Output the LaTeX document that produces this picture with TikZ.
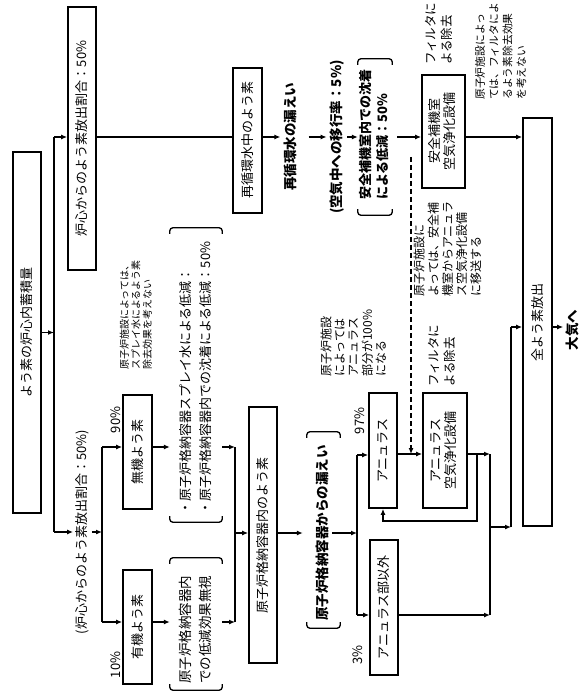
\documentclass[tikz,border=0pt]{standalone}
\usepackage{fontspec}
\setmainfont{Noto Sans CJK JP}
\usetikzlibrary{arrows.meta,calc}
\newcommand{\R}[1]{\rotatebox{90}{#1}}
\newcommand{\RT}[2][c]{\rotatebox{90}{\begin{tabular}{@{}#1@{}}#2\end{tabular}}}
\newcommand{\bracketsof}[1]{%
  \draw[brk] ($(#1.north west)+(0,6)$) -- (#1.north west) -- (#1.north east) -- ($(#1.north east)+(0,6)$);
  \draw[brk] ($(#1.south west)+(0,-6)$) -- (#1.south west) -- (#1.south east) -- ($(#1.south east)+(0,-6)$);}
\tikzset{
  box/.style={draw, line width=1.7pt, inner sep=0pt, font=\fontsize{13}{15}\selectfont},
  ln/.style={line width=1.3pt},
  arr/.style={line width=1.3pt, -{Latex[length=6pt,width=5pt]}},
  txt/.style={inner sep=0pt, font=\fontsize{13}{15}\selectfont},
  btxt/.style={inner sep=0pt, font=\bfseries\fontsize{13.5}{16}\selectfont},
  note/.style={inner sep=0pt, font=\fontsize{12}{13.5}\selectfont},
  snote/.style={inner sep=0pt, font=\fontsize{10}{10.6}\selectfont},
  brk/.style={line width=1.3pt, rounded corners=3pt},
  region/.style n args={2}{inner sep=0pt, minimum width=#1, minimum height=#2},
}
\begin{document}
\begin{tikzpicture}[x=1pt,y=-1pt]
\useasboundingbox (0,0) rectangle (582,700);
% row coordinates
\coordinate (r1) at (0,137);
\coordinate (r2) at (0,454);
\coordinate (r4) at (0,447);
\coordinate (r5) at (0,622);
\coordinate (r6) at (0,533);
\coordinate (r7) at (0,615);

% left part
\node[box, minimum width=28pt, minimum height=361pt] (core) at (27,332.5) {\R{よう素の炉心内蓄積量}};
\node[box, minimum width=28pt, minimum height=263pt] (rel) at (82,138.5) {\R{炉心からのよう素放出割合：50\%}};
\coordinate (j1t) at (54,137);
\coordinate (j1b) at (54,532);
\draw[ln] (j1t) -- (j1b);
\draw[arr] (core.east) -- (core.east -| j1t);
\draw[arr] (j1t) -- (j1t -| rel.west);

% upper row
\node[box, minimum width=29pt, minimum height=145pt] (recw) at (247.5,140.5) {\R{再循環水中のよう素}};
\draw[ln] (rel.east |- r1) -- (recw.west |- r1);
\node[btxt] (leak1) at (290,137) {\R{再循環水の漏えい}};
\draw[arr] (recw.east |- r1) -- ([xshift=-3pt]leak1.west);
\node[btxt] (air) at (337,137) {\R{(空気中への移行率：5\%)}};
\draw[arr] ([xshift=12pt]leak1.east) -- ([xshift=-3pt]air.west);
\node[region={34pt}{156pt}] (bk1) at (375,137) {};
\bracketsof{bk1}
\node[btxt, anchor=south, font=\bfseries\fontsize{13}{17}\selectfont] (bt1) at (376,200) {\RT[l]{安全補機室内での沈着\\による低減：50\%}};
\draw[arr] ([xshift=3pt]air.east) -- (bk1.west);
\node[box, minimum width=43pt, minimum height=113pt] (sacu) at (443.5,131.5) {\RT{安全補機室\\空気浄化設備}};
\draw[arr] ([xshift=5pt]bk1.east) -- (bk1.east -| sacu.west);
\node[box, minimum width=29pt, minimum height=408pt] (total) at (537.5,322) {\R{全よう素放出}};
\draw[arr] (sacu.east |- r1) -- (total.west |- r1);
\node[btxt] (atm) at (572,330) {\R{大気へ}};
\node[txt, anchor=south, font=\fontsize{12.5}{16}\selectfont] (flt1) at (440,65) {\RT[l]{フィルタに\\よる除去}};
\node[note, anchor=south, font=\fontsize{10.8}{13.7}\selectfont] (nt1) at (502,100) {\RT[l]{原子炉施設によっ\\ては、フィルタによ\\るよう素除去効果\\を考えない}};
\coordinate (dtop) at (411,157);
\draw[arr, dash pattern=on 5pt off 3pt] (dtop) -- (dtop |- r2);
\node[note, anchor=south] (nt2) at (449,297) {\RT[l]{原子炉施設に\\よっては、安全補\\機室からアニュラ\\ス空気浄化設備\\に移送する}};

% middle-left
\node[txt] (rel2) at (82,532) {\R{(炉心からのよう素放出割合：50\%)}};
\draw[arr] (j1b) -- ([xshift=-2pt]rel2.west);
\coordinate (j2t) at (102,447);
\coordinate (j2b) at (102,622);
\draw[ln] (j2t) -- (j2b);
\draw[arr] ([xshift=3pt]rel2.east) -- (rel2.east -| j2t);
\node[box, minimum width=29pt, minimum height=114pt] (inorg) at (137.5,452) {\R{無機よう素}};
\node[box, minimum width=29pt, minimum height=114pt] (org) at (137.5,627) {\R{有機よう素}};
\draw[arr] (j2t) -- (j2t -| inorg.west);
\draw[arr] (j2b) -- (j2b -| org.west);
\node[txt] (p90) at (116,420) {\R{90\%}};
\node[txt] (p10) at (116,665) {\R{10\%}};
\node[snote, anchor=south] (nt4) at (137,370) {\RT[l]{原子炉施設によっては、\\スプレイ水によるよう素\\除去効果を考えない}};

\node[region={52pt}{294pt}] (bk2) at (196,375) {};
\bracketsof{bk2}
\node[txt, anchor=south, font=\fontsize{13}{20}\selectfont] (spr) at (196,515) {\RT[l]{・原子炉格納容器スプレイ水による低減：\\・原子炉格納容器内での沈着による低減：50\%}};
\node[region={52pt}{132pt}] (bk3) at (196,624) {};
\bracketsof{bk3}
\node[txt, anchor=south, font=\fontsize{13.5}{20}\selectfont] (nore) at (196,684) {\RT[l]{原子炉格納容器内\\での低減効果無視}};
\draw[arr] (inorg.east |- r4) -- (bk2.west |- r4);
\draw[arr] (org.east |- r5) -- (bk3.west |- r5);
\coordinate (j3t) at (235,447);
\coordinate (j3b) at (235,622);
\draw[ln] (j3t) -- (j3b);
\draw[arr] (bk2.east |- r4) -- (j3t);
\draw[arr] (bk3.east |- r5) -- (j3b);
\node[box, minimum width=28pt, minimum height=256pt] (pcv) at (263,535) {\R{原子炉格納容器内のよう素}};
\draw[arr] (j3t |- r6) -- (pcv.west |- r6);

\node[region={33pt}{196pt}] (bk4) at (323.5,530) {};
\bracketsof{bk4}
\node[btxt] (leak2) at (322,533) {\R{原子炉格納容器からの漏えい}};
\draw[arr] (pcv.east |- r6) -- ($(bk4.west |- r6)+(-4,0)$);
\coordinate (j4t) at (357,455);
\coordinate (j4b) at (357,615);
\draw[ln] (j4t) -- (j4b);
\draw[arr] ($(bk4.east |- r6)+(-8,0)$) -- (j4t |- r6);

\node[box, minimum width=28pt, minimum height=115pt] (ann) at (383,450.5) {\R{アニュラス}};
\node[box, minimum width=28pt, minimum height=135pt] (nonann) at (384,607.5) {\R{アニュラス部以外}};
\draw[arr] (j4t) -- (j4t -| ann.west);
\draw[arr] (j4b) -- (j4b -| nonann.west);
\node[txt] (p97) at (360,421) {\R{97\%}};
\node[txt] (p3) at (358,655) {\R{3\%}};
\node[note, anchor=south] (nt3) at (355,377) {\RT[l]{原子炉施設\\によっては\\アニュラス\\部分が100\%\\になる}};
\node[box, minimum width=44pt, minimum height=115pt] (aacu) at (445,450.5) {\RT{アニュラス\\空気浄化設備}};
\draw[arr] (ann.east |- r2) -- (aacu.west |- r2);
\node[txt, anchor=south, font=\fontsize{12.5}{16}\selectfont] (flt2) at (443,387) {\RT[l]{フィルタに\\よる除去}};

\coordinate (j5t) at (490,454);
\coordinate (j5b) at (490,615);
\draw[ln] (j5t) -- (j5b);
\draw[arr] (aacu.east |- r2) -- (j5t);
\draw[arr] (nonann.east |- r7) -- (j5b);
\coordinate (lp) at (477,521);
\draw[arr] (lp |- r2) -- (lp) -- (ann.south |- lp) -- (ann.south);
\coordinate (j6t) at (511,327);
\coordinate (j6b) at (511,527);
\draw[ln] (j6t) -- (j6b);
\draw[arr] (j5t |- j6b) -- (j6b);
\draw[arr] (j6t) -- (j6t -| total.west);
\draw[arr] (total.east |- j6t) -- ($(atm.west |- j6t)+(-2,0)$);
\end{tikzpicture}
\end{document}
